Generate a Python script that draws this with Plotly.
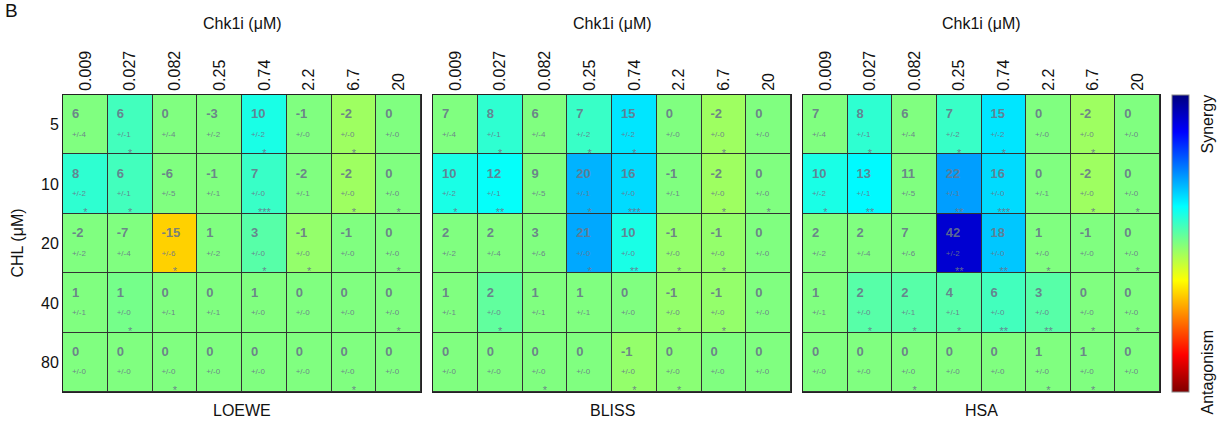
import plotly.graph_objects as go

# ---------------- data ----------------
cols = ["0.009", "0.027", "0.082", "0.25", "0.74", "2.2", "6.7", "20"]
rows = ["5", "10", "20", "40", "80"]
panels = ["LOEWE", "BLISS", "HSA"]

loewe_val = [[6, 6, 0, -3, 10, -1, -2, 0],
             [8, 6, -6, -1, 7, -2, -2, 0],
             [-2, -7, -15, 1, 3, -1, -1, 0],
             [1, 1, 0, 0, 1, 0, 0, 0],
             [0, 0, 0, 0, 0, 0, 0, 0]]
loewe_err = [[4, 1, 4, 2, 2, 0, 0, 0],
             [2, 1, 5, 1, 0, 1, 0, 0],
             [2, 4, 6, 2, 0, 0, 0, 0],
             [1, 0, 1, 1, 0, 0, 0, 0],
             [0, 0, 0, 0, 0, 0, 0, 0]]
loewe_sig = [["", "*", "", "", "*", "", "*", ""],
             ["*", "*", "", "", "***", "", "*", "*"],
             ["", "", "*", "", "*", "*", "", "*"],
             ["", "*", "", "", "", "", "", "*"],
             ["", "", "*", "", "", "", "*", ""]]
loewe_shade = [[0, 6, 0, 0, 10, 0, -3, 0],
               [8, 6, 0, 0, 7, 0, -3, 0],
               [0, 0, -17, 0, 4, -2, 0, 0],
               [0, 1, 0, 0, 0, 0, 0, 0],
               [0, 0, 0, 0, 0, 0, 0, 0]]

bliss_val = [[7, 8, 6, 7, 15, 0, -2, 0],
             [10, 12, 9, 20, 16, -1, -2, 0],
             [2, 2, 3, 21, 10, -1, -1, 0],
             [1, 2, 1, 1, 0, -1, -1, 0],
             [0, 0, 0, 0, -1, 0, 0, 0]]
bliss_err = [[4, 1, 4, 2, 2, 0, 0, 0],
             [2, 1, 5, 1, 0, 1, 0, 0],
             [2, 4, 6, 0, 0, 0, 0, 0],
             [1, 0, 1, 1, 0, 0, 0, 0],
             [0, 0, 0, 0, 0, 0, 0, 0]]
bliss_sig = [["", "*", "", "*", "*", "", "*", ""],
             ["*", "**", "", "*", "***", "", "*", "*"],
             ["", "", "", "*", "**", "*", "*", ""],
             ["", "*", "", "", "", "*", "*", ""],
             ["", "", "*", "", "*", "*", "", ""]]
bliss_shade = [[0, 8, 0, 7, 15, 0, -3, 0],
               [10, 12, 0, 20, 16, 0, -3, 0],
               [0, 0, 0, 21, 10, -2, -2, 0],
               [0, 3, 0, 0, 0, -2, -2, 0],
               [0, 0, 0, 0, -2, -1, 0, 0]]

hsa_val = [[7, 8, 6, 7, 15, 0, -2, 0],
           [10, 13, 11, 22, 16, 0, -2, 0],
           [2, 2, 7, 42, 18, 1, -1, 0],
           [1, 2, 2, 4, 6, 3, 0, 0],
           [0, 0, 0, 0, 0, 1, 1, 0]]
hsa_err = [[4, 1, 4, 2, 2, 0, 0, 0],
           [2, 1, 5, 1, 0, 1, 0, 0],
           [2, 4, 6, 2, 0, 0, 0, 0],
           [1, 0, 1, 1, 0, 0, 0, 0],
           [0, 0, 0, 0, 0, 0, 0, 0]]
hsa_sig = [["", "*", "", "*", "*", "", "*", ""],
           ["*", "**", "", "**", "***", "", "*", "*"],
           ["", "", "", "**", "**", "*", "", "*"],
           ["", "*", "*", "*", "**", "**", "*", "*"],
           ["", "", "*", "", "", "*", "*", ""]]
hsa_shade = [[0, 8, 0, 7, 15, 0, -3, 0],
             [10, 13, 0, 22, 16, 0, -3, 0],
             [0, 0, 0, 42, 18, 0, 0, 0],
             [0, 4, 4, 4, 6, 4, 0, 0],
             [0, 0, 0, 0, 0, 0, 0, 0]]

panel_data = [
    (loewe_val, loewe_err, loewe_sig, loewe_shade),
    (bliss_val, bliss_err, bliss_sig, bliss_shade),
    (hsa_val, hsa_err, hsa_sig, hsa_shade),
]

# MATLAB-like jet, flipped so synergy (positive) is blue
jet_rev = [[0.0, "rgb(128,0,0)"], [0.125, "rgb(255,0,0)"], [0.375, "rgb(255,255,0)"],
           [0.625, "rgb(0,255,255)"], [0.875, "rgb(0,0,255)"], [1.0, "rgb(0,0,128)"]]
ZMAX = 50

FONT = "Liberation Sans, Arial, sans-serif"
TXT = "rgba(105,118,138,0.9)"

W, H = 1220, 426
ML, MT = 63, 95
PLOT_R, PLOT_B = 1160, 392
MR, MB = W - PLOT_R, H - PLOT_B
PW = W - ML - MR
PH = H - MT - MB
px_dom = [(63, 421), (433, 791), (803, 1160)]
domains = [[(a - ML) / PW, (b - ML) / PW] for a, b in px_dom]


def px_x(xpx):
    return (xpx - ML) / PW


def px_y(ypx):
    return (PLOT_B - ypx) / PH


fig = go.Figure()
xi = list(range(len(cols)))
yi = list(range(len(rows)))

for p, (vals, errs, sigs, shade) in enumerate(panel_data):
    xa = "x" if p == 0 else f"x{p+1}"
    ya = "y" if p == 0 else f"y{p+1}"
    fig.add_trace(go.Heatmap(
        z=shade, x=xi, y=yi, xaxis=xa, yaxis=ya,
        colorscale=jet_rev, zmin=-ZMAX, zmax=ZMAX, xgap=1, ygap=1,
        hoverinfo="skip",
        showscale=(p == 0),
        colorbar=dict(x=px_x(1172), xanchor="left", thickness=17,
                      len=1, y=0.5, yanchor="middle", showticklabels=False,
                      ticks="", outlinewidth=1, outlinecolor="#888", xpad=0, ypad=0),
    ))
    tx, ty, tv = [], [], []
    ex, ey, ev = [], [], []
    sx, sy, sv = [], [], []
    for r in yi:
        for c in xi:
            tx.append(c - 0.30); ty.append(r - 0.16); tv.append(str(vals[r][c]))
            ex.append(c - 0.30); ey.append(r + 0.17); ev.append(f"+/-{errs[r][c]}")
            if sigs[r][c]:
                sx.append(c); sy.append(r + 0.49); sv.append(sigs[r][c])
    fig.add_trace(go.Scatter(x=tx, y=ty, text=tv, mode="text", textposition="middle right",
                             textfont=dict(family=FONT, size=13, color=TXT, weight="bold"),
                             xaxis=xa, yaxis=ya, hoverinfo="skip", showlegend=False))
    fig.add_trace(go.Scatter(x=ex, y=ey, text=ev, mode="text", textposition="middle right",
                             textfont=dict(family=FONT, size=8, color=TXT),
                             xaxis=xa, yaxis=ya, hoverinfo="skip", showlegend=False))
    fig.add_trace(go.Scatter(x=sx, y=sy, text=sv, mode="text", textposition="middle center",
                             textfont=dict(family=FONT, size=11, color=TXT),
                             xaxis=xa, yaxis=ya, hoverinfo="skip", showlegend=False,
                             cliponaxis=False))

    axx = dict(domain=domains[p], anchor=ya, side="top", tickmode="array",
               tickvals=xi, ticktext=cols, tickangle=-90, range=[-0.5, 7.5],
               showgrid=False, zeroline=False, showline=True, mirror=True,
               linecolor="#222", linewidth=1, ticks="", automargin=False,
               tickfont=dict(family=FONT, size=16, color="#111"))
    axy = dict(domain=[0, 1], anchor=xa, tickmode="array", tickvals=yi, ticktext=rows,
               range=[4.5, -0.5], showgrid=False, zeroline=False, showline=True,
               mirror=True, linecolor="#222", linewidth=1, ticks="", automargin=False,
               showticklabels=(p == 0),
               tickfont=dict(family=FONT, size=16, color="#111"))
    key = "" if p == 0 else str(p + 1)
    fig.update_layout(**{f"xaxis{key}": axx, f"yaxis{key}": axy})

    fig.add_annotation(text="Chk1i (μM)", xref=f"{xa} domain", yref="paper",
                       x=0.5, y=px_y(23), showarrow=False, yanchor="middle",
                       font=dict(family=FONT, size=16, color="#111"))
    fig.add_annotation(text=panels[p], xref=f"{xa} domain", yref="paper",
                       x=0.5, y=px_y(410), showarrow=False, yanchor="middle",
                       font=dict(family=FONT, size=16, color="#111"))

fig.add_annotation(text="B", xref="paper", yref="paper", x=px_x(3), y=px_y(10),
                   xanchor="left", yanchor="middle", showarrow=False,
                   font=dict(family=FONT, size=19, color="#111"))
fig.add_annotation(text="CHL (μM)", xref="paper", yref="paper", x=px_x(17), y=0.5,
                   textangle=-90, xanchor="center", yanchor="middle", showarrow=False,
                   font=dict(family=FONT, size=16, color="#111"))
fig.add_annotation(text="Synergy", xref="paper", yref="paper", x=px_x(1207),
                   y=px_y(93), textangle=-90, xanchor="center", yanchor="top",
                   showarrow=False, font=dict(family=FONT, size=16, color="#111"))
fig.add_annotation(text="Antagonism", xref="paper", yref="paper", x=px_x(1207),
                   y=px_y(417), textangle=-90, xanchor="center", yanchor="bottom",
                   showarrow=False, font=dict(family=FONT, size=16, color="#111"))

fig.update_layout(width=W, height=H,
                  margin=dict(l=ML, r=MR, t=MT, b=MB, pad=0, autoexpand=False),
                  plot_bgcolor="#333", paper_bgcolor="white", showlegend=False)

fig.write_html("out.html", config={"displayModeBar": False},
               post_script="document.body.style.margin='0px';")
